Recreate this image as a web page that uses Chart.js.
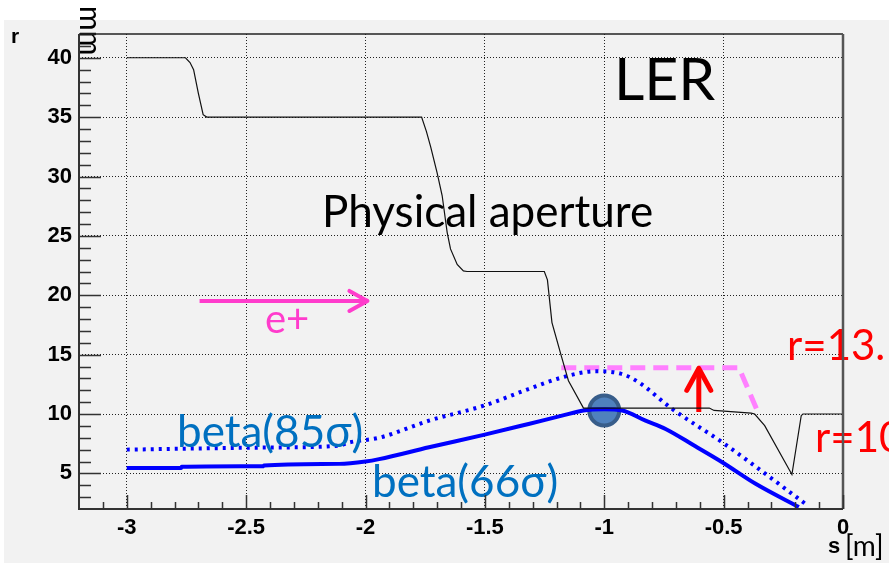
<!DOCTYPE html>
<html>
<head>
<meta charset="utf-8">
<script src="https://cdn.jsdelivr.net/npm/chart.js@4"></script>
<style>
  html, body { margin: 0; padding: 0; background: #fff; }
  #wrap { width: 889px; height: 563px; }
</style>
</head>
<body>
<div id="wrap"><canvas id="chart" width="889" height="563"></canvas></div>
<script>
// physical aperture (black)
const apertureS = [-3, -2.754, -2.735, -2.72, -2.70, -2.68, -2.665, -1.765, -1.745, -1.727, -1.70, -1.679, -1.658, -1.644, -1.616, -1.59, -1.575, -1.251, -1.238, -1.219, -1.18, -1.15, -1.087, -0.56, -0.54, -0.385, -0.37, -0.328, -0.214, -0.175, -0.168, 0];
const apertureR = [40, 40, 39.6, 39, 37, 35.2, 35, 35, 33.8, 32.5, 30.3, 28.4, 25.3, 23.9, 22.6, 22.05, 22, 22, 21.3, 17.7, 14.9, 12.8, 10.5, 10.5, 10.3, 10.08, 10, 9.02, 4.9, 9.86, 10, 10];

// beta(66 sigma), solid blue
const beta66S = [-3, -2.772, -2.77, -2.43, -2.425, -2.11, -2.0, -1.943, -1.734, -1.505, -1.317, -1.177, -1.087, -1.0, -0.925, -0.827, -0.743, -0.62, -0.506, -0.366, -0.185];
const beta66R = [5.45, 5.45, 5.55, 5.6, 5.66, 5.8, 6.0, 6.2, 7.2, 8.24, 9.16, 9.86, 10.3, 10.4, 10.3, 9.44, 8.74, 7.3, 5.94, 4.12, 2.16];

// beta(85 sigma), dotted blue
const beta85S = [-3, -2.43, -2.11, -2.07, -1.943, -1.734, -1.505, -1.317, -1.177, -1.037, -0.925, -0.855, -0.715, -0.506, -0.297, -0.158];
const beta85R = [7.0, 7.17, 7.34, 7.6, 8.0, 9.44, 10.7, 12.1, 13.08, 13.6, 13.36, 12.66, 10.42, 7.62, 4.54, 2.44];

// r=13.9 limit, dashed magenta
const limitS = [-1.18, -0.436, -0.353];
const limitR = [13.9, 13.9, 10.0];

// arrows and marker
const beamS = [-2.695, -1.992];
const beamR = [19.52, 19.52];
const liftS = [-0.604, -0.604];
const liftR = [10.17, 13.84];
const ipS = [-1.0];
const ipR = [10.3];

const xTicks = [-3, -2.5, -2, -1.5, -1, -0.5, 0];
const yTicks = [5, 10, 15, 20, 25, 30, 35, 40];

function pts(xs, ys) {
  return xs.map((x, i) => ({x: x, y: ys[i]}));
}

const calibri = "Lato, 'Open Sans', sans-serif";

const notes = [
  ['LER', 614, 100, '59px ' + calibri, '#000'],
  ['Physical aperture', 322, 227, '44px ' + calibri, '#000'],
  ['e+', 265, 333, '40px ' + calibri, '#ff3ccc'],
  ['beta(85\u03c3)', 177, 447, '44px ' + calibri, '#0070c0'],
  ['beta(66\u03c3)', 372, 497, '44px ' + calibri, '#0070c0'],
  ['r=13.', 787, 360, '42px ' + calibri, '#ff0000'],
  ['r=10', 815, 452, '42px ' + calibri, '#ff0000'],
  ['s', 828, 553, 'bold 22px "Liberation Sans", Arial', '#000'],
  ['[m]', 845, 556, '28px ' + calibri, '#000'],
  ['r', 11, 43, 'bold 21px "Liberation Sans", Arial', '#000']
];

const backdrop = {
  id: 'backdrop',
  beforeDraw(chart) {
    const c = chart.ctx;
    c.save();
    c.fillStyle = '#fff';
    c.fillRect(0, 0, chart.width, chart.height);
    c.fillStyle = '#f2f2f2';
    c.fillRect(4, 20, chart.width - 4, chart.height - 20);
    c.restore();
  }
};

const frame = {
  id: 'frame',
  afterDatasetsDraw(chart) {
    const c = chart.ctx, a = chart.chartArea;
    const xs = chart.scales.x, ys = chart.scales.y;
    c.save();
    c.textBaseline = 'alphabetic';
    notes.forEach(n => {
      c.font = n[3];
      c.fillStyle = n[4];
      c.fillText(n[0], n[1], n[2]);
    });
    c.save();
    c.translate(80, 6);
    c.rotate(Math.PI / 2);
    c.font = '30px ' + calibri;
    c.fillStyle = '#000';
    c.fillText('mm', 0, 0);
    c.restore();

    c.strokeStyle = '#222';
    c.lineWidth = 1.5;
    c.beginPath();
    c.moveTo(a.left, a.top); c.lineTo(a.right, a.top);
    c.stroke();
    c.strokeStyle = '#555';
    c.lineWidth = 2.5;
    c.beginPath();
    c.moveTo(a.right, a.top); c.lineTo(a.right, a.bottom);
    c.stroke();
    c.strokeStyle = '#333';
    c.lineWidth = 2;
    c.beginPath();
    c.moveTo(a.left, a.top); c.lineTo(a.left, a.bottom); c.lineTo(a.right, a.bottom);
    c.stroke();

    c.lineWidth = 1.5;
    c.beginPath();
    for (let v = 3; v <= 41; v++) {
      const py = Math.round(ys.getPixelForValue(v)) + 0.5;
      const len = v % 5 === 0 ? 22 : 12;
      c.moveTo(a.left, py); c.lineTo(a.left + len, py);
    }
    for (let k = -31; k <= 0; k++) {
      const px = Math.round(xs.getPixelForValue(k / 10)) + 0.5;
      const len = k % 5 === 0 ? 14 : 7;
      c.moveTo(px, a.bottom); c.lineTo(px, a.bottom - len);
    }
    c.stroke();
    c.restore();
  }
};

const heads = {
  id: 'heads',
  afterDatasetsDraw(chart) {
    const c = chart.ctx;
    chart.data.datasets.forEach((ds, i) => {
      if (!ds.head) return;
      const p = chart.getDatasetMeta(i).data;
      const a = p[p.length - 2], b = p[p.length - 1];
      const ang = Math.atan2(b.y - a.y, b.x - a.x);
      const back = ds.head[0], side = ds.head[1];
      c.save();
      c.strokeStyle = ds.borderColor;
      c.lineWidth = ds.borderWidth;
      c.lineCap = 'round';
      c.beginPath();
      [-1, 1].forEach(sgn => {
        const hx = b.x - back * Math.cos(ang) - sgn * side * Math.sin(ang);
        const hy = b.y - back * Math.sin(ang) + sgn * side * Math.cos(ang);
        c.moveTo(hx, hy); c.lineTo(b.x, b.y);
      });
      c.stroke();
      c.restore();
    });
  }
};

function keepTicks(list) {
  return function(s) {
    s.ticks = list.map(v => ({value: v}));
  };
}

const tickFont = {family: '"Liberation Sans", Arial', size: 22, weight: 'bold'};

new Chart(document.getElementById('chart'), {
  type: 'scatter',
  data: {
    datasets: [
      {data: pts(apertureS, apertureR), showLine: true, borderColor: '#111', borderWidth: 1.2, pointRadius: 0, tension: 0},
      {data: pts(beta85S, beta85R), showLine: true, borderColor: '#0000ff', borderWidth: 4, borderDash: [3, 5], pointRadius: 0, cubicInterpolationMode: 'monotone'},
      {data: pts(beta66S, beta66R), showLine: true, borderColor: '#0000ff', borderWidth: 4, pointRadius: 0, cubicInterpolationMode: 'monotone'},
      {data: pts(limitS, limitR), showLine: true, borderColor: '#ff80ff', borderWidth: 5, borderDash: [15, 8], pointRadius: 0},
      {data: pts(liftS, liftR), showLine: true, borderColor: '#ff0000', borderWidth: 5, pointRadius: 0, head: [22, 12]},
      {data: pts(beamS, beamR), showLine: true, borderColor: '#ff3ccc', borderWidth: 4, pointRadius: 0, head: [18, 10]},
      {data: pts(ipS, ipR), showLine: false, pointRadius: 15, backgroundColor: '#4f81bd', borderColor: '#385d8a', borderWidth: 4}
    ]
  },
  options: {
    responsive: false,
    animation: false,
    layout: {padding: {top: 34, right: 46, left: 0, bottom: 0}},
    plugins: {legend: {display: false}, tooltip: {enabled: false}},
    scales: {
      x: {
        type: 'linear', min: -3.2, max: 0,
        afterBuildTicks: keepTicks(xTicks),
        afterFit(s) { s.height = 54; },
        grid: {color: '#222', lineWidth: 1, drawTicks: false},
        border: {display: false, dash: [1, 2]},
        ticks: {color: '#000', padding: 6, maxRotation: 0, font: tickFont, callback: v => String(v)}
      },
      y: {
        type: 'linear', min: 2, max: 42,
        afterBuildTicks: keepTicks(yTicks),
        afterFit(s) { s.width = 79; },
        grid: {color: '#222', lineWidth: 1, drawTicks: false},
        border: {display: false, dash: [1, 2]},
        ticks: {color: '#000', padding: 7, font: tickFont, callback: v => String(v)}
      }
    }
  },
  plugins: [backdrop, frame, heads]
});
</script>
</body>
</html>
